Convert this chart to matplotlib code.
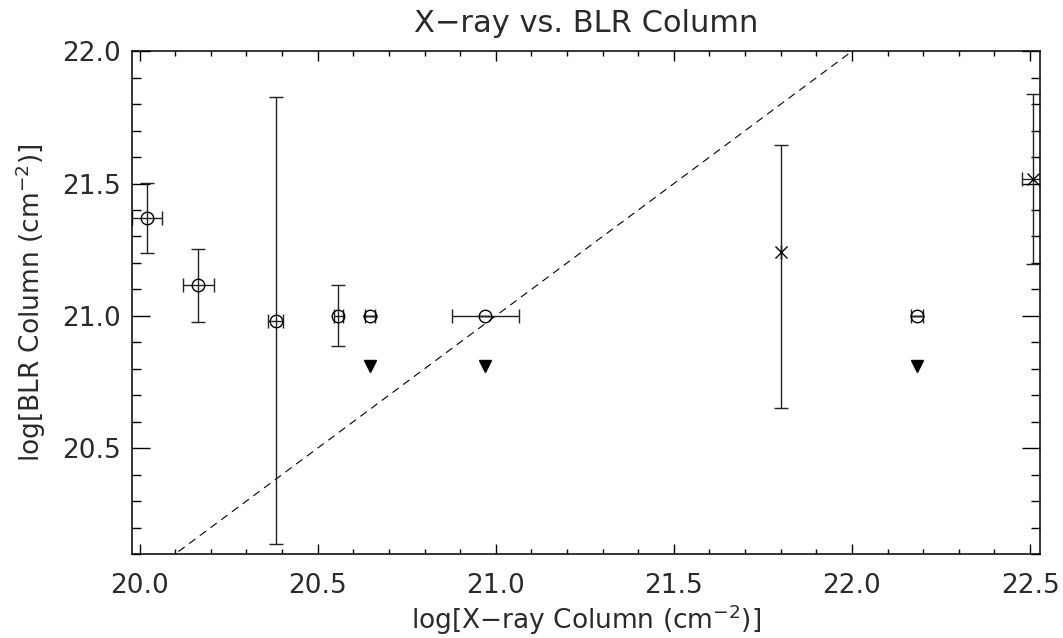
import matplotlib
matplotlib.use('Agg')
import matplotlib.pyplot as plt
from matplotlib.ticker import MultipleLocator

# 측정값 (원 표시)
circ_x = [20.02, 20.165, 20.382, 20.558, 20.647, 20.97, 22.182]
circ_y = [21.37, 21.115, 20.982, 21.0, 21.0, 21.0, 21.0]
circ_xerr = [0.042, 0.043, 0.02, 0.013, 0.013, 0.094, 0.017]
circ_yerr = [0.133, 0.138, 0.846, 0.115, 0.0, 0.0, 0.0]

# X 표시
cross_x = [21.8, 22.507]
cross_y = [21.24, 21.517]
cross_xerr = [0.0, 0.03]
cross_yerr_lo = [0.59, 0.322]
cross_yerr_hi = [0.405, 0.322]

# 상한값 (삼각형)
lim_x = [20.647, 20.97, 22.182]
lim_y = [20.81, 20.81, 20.81]

plt.rcParams['font.family'] = 'DejaVu Sans'
txt = '#2a2a2a'

fig = plt.figure(figsize=(10.63, 6.38), dpi=100)
ax = fig.add_axes([0.1239, 0.1317, 0.8545, 0.7879])

# y = x 기준선
ax.plot([19.0, 23.0], [19.0, 23.0], color='black', lw=0.8, dashes=(7, 5))

ax.errorbar(circ_x, circ_y, xerr=circ_xerr, yerr=circ_yerr, fmt='o', ms=9,
            mfc='none', mec='black', mew=1.0, ecolor='#222222', elinewidth=1.0,
            capsize=4.7, capthick=1.0)
ax.errorbar(cross_x, cross_y, xerr=cross_xerr, yerr=[cross_yerr_lo, cross_yerr_hi],
            fmt='x', ms=9, mec='black', mew=1.0, ecolor='#222222', elinewidth=1.0,
            capsize=4.7, capthick=1.0)
ax.plot(lim_x, lim_y, 'v', color='black', ms=8, ls='none')

ax.set_xlim(19.978, 22.528)
ax.set_ylim(20.1, 22.0)
ax.xaxis.set_major_locator(MultipleLocator(0.5))
ax.xaxis.set_minor_locator(MultipleLocator(0.1))
ax.yaxis.set_major_locator(MultipleLocator(0.5))
ax.yaxis.set_minor_locator(MultipleLocator(0.1))
ax.xaxis.set_major_formatter(matplotlib.ticker.FormatStrFormatter('%.1f'))
ax.yaxis.set_major_formatter(matplotlib.ticker.FormatStrFormatter('%.1f'))

ax.tick_params(axis='both', which='both', direction='in', top=True, right=True,
               colors='black', labelcolor=txt, labelsize=19, width=1.0)
ax.tick_params(axis='x', which='major', length=7.5, pad=14)
ax.tick_params(axis='x', which='minor', length=3.8)
ax.tick_params(axis='y', which='major', length=13, pad=8)
ax.tick_params(axis='y', which='minor', length=6.5)
for s in ax.spines.values():
    s.set_linewidth(1.1)

ax.set_title('X\u2212ray vs. BLR Column', fontsize=22, color=txt, pad=14)
ax.set_xlabel('log[X\u2212ray Column (cm$^{-2}$)]', fontsize=19, color=txt, labelpad=2)
ax.set_ylabel('log[BLR Column (cm$^{-2}$)]', fontsize=19, color=txt, labelpad=10)

fig.savefig('out.png', dpi=100)
